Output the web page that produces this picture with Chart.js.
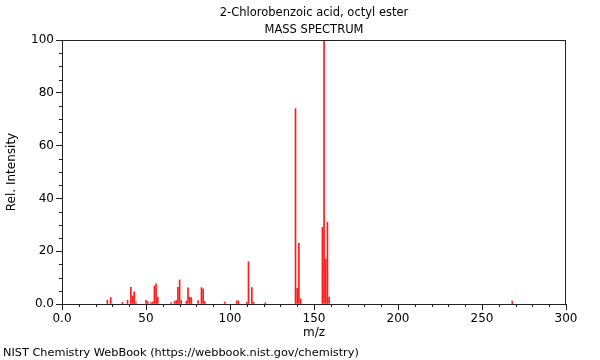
<!DOCTYPE html>
<html>
<head>
<meta charset="utf-8">
<script src="https://cdn.jsdelivr.net/npm/chart.js@4"></script>
<style>
  body { margin: 0; background: #fff; }
  #wrap { width: 600px; height: 360px; }
</style>
</head>
<body>
<div id="wrap"><canvas id="spectrum" width="600" height="360"></canvas></div>
<script>
// peaks
const mz = [27, 29, 36, 39, 41, 42, 43, 44, 50, 51, 53, 54, 55, 56, 57, 65, 67, 68, 69, 70,
            71, 74, 75, 76, 77, 81, 83, 84, 85, 97, 104, 105, 110, 111, 113, 114, 121,
            139, 140, 141, 142, 155, 156, 157, 158, 159, 268];
const relIntensity = [1.4, 2.5, 0.6, 1.4, 6.3, 3.1, 4.6, 0.5, 1.4, 0.9, 0.5, 0.8, 6.8, 7.6, 2.6, 0.5, 1.0, 1.3, 6.3, 9.1,
                      1.3, 1.1, 6.1, 2.6, 2.4, 1.3, 6.2, 5.7, 0.9, 0.7, 1.2, 1.2, 0.6, 16, 6.2, 0.7, 0.5,
                      74, 5.9, 23, 2.0, 29, 100, 17, 31, 2.6, 1.1];
const xTicks = [0, 50, 100, 150, 200, 250, 300];
const yTicks = [0, 20, 40, 60, 80, 100];

const chartTitle = '2-Chlorobenzoic acid, octyl ester';
const chartSubtitle = 'MASS SPECTRUM';
const footer = 'NIST Chemistry WebBook (https://webbook.nist.gov/chemistry)';

const FONT = 'DejaVu Sans';
Chart.defaults.font.family = FONT;
Chart.defaults.font.size = 12;
Chart.defaults.color = '#000';

const points = mz.map((m, i) => ({ x: m, y: relIntensity[i] }));

// frame, minor ticks and the text around the plot
const decorations = {
  id: 'decorations',
  afterDraw(chart) {
    const { ctx, chartArea: a, scales } = chart;
    ctx.save();
    ctx.strokeStyle = '#222';
    ctx.lineWidth = 1;
    ctx.strokeRect(a.left + 0.5, a.top + 0.5, a.right - a.left - 1, a.bottom - a.top);

    ctx.beginPath();
    for (let v = 0; v <= 300; v += 10) {
      if (v % 50 === 0) continue;
      const px = Math.round(scales.x.getPixelForValue(v)) + 0.5;
      ctx.moveTo(px, a.bottom);
      ctx.lineTo(px, a.bottom + 3);
    }
    for (let v = 0; v <= 100; v += 5) {
      if (v % 20 === 0) continue;
      const py = Math.round(scales.y.getPixelForValue(v)) + 0.5;
      ctx.moveTo(a.left - 3, py);
      ctx.lineTo(a.left, py);
    }
    ctx.stroke();

    ctx.fillStyle = '#000';
    ctx.textBaseline = 'middle';
    ctx.textAlign = 'center';
    const cx = (a.left + a.right) / 2;
    ctx.font = '11.5px ' + FONT;
    ctx.fillText(chartTitle, cx, 13);
    ctx.fillText(chartSubtitle, cx, 30);
    ctx.textAlign = 'left';
    ctx.font = '11.3px ' + FONT;
    ctx.fillText(footer, 3, 353);
    ctx.restore();
  }
};

new Chart(document.getElementById('spectrum'), {
  type: 'bar',
  data: {
    datasets: [{
      data: points,
      backgroundColor: '#ff1a1a',
      borderWidth: 0,
      barThickness: 1,
    }]
  },
  options: {
    responsive: false,
    animation: false,
    layout: { padding: { top: 40, right: 34, bottom: 20, left: 0 } },
    plugins: { legend: { display: false }, tooltip: { enabled: false } },
    scales: {
      x: {
        type: 'linear',
        min: 0,
        max: 300,
        offset: false,
        afterBuildTicks: (s) => { s.ticks = xTicks.map(v => ({ value: v })); },
        afterFit: (s) => { s.height = 36; },
        ticks: { padding: 2, maxRotation: 0, callback: v => v === 0 ? '0.0' : v },
        grid: { drawOnChartArea: false, tickLength: 6, color: '#222', offset: false },
        border: { color: '#222' },
        title: { display: true, text: 'm/z', padding: { top: 0, bottom: 0 } }
      },
      y: {
        min: 0,
        max: 100,
        afterBuildTicks: (s) => { s.ticks = yTicks.map(v => ({ value: v })); },
        afterFit: (s) => { s.width = 62; },
        ticks: { padding: 2, callback: v => v === 0 ? '0.0' : v },
        grid: { drawOnChartArea: false, tickLength: 6, color: '#222' },
        border: { color: '#222' },
        title: { display: true, text: 'Rel. Intensity', padding: { top: 5, bottom: 0 } }
      }
    }
  },
  plugins: [decorations]
});
</script>
</body>
</html>
